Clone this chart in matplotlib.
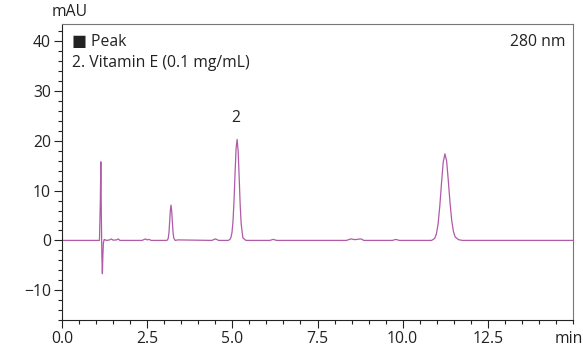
import matplotlib
matplotlib.use("Agg")
import matplotlib.pyplot as plt
from matplotlib.ticker import MultipleLocator, FormatStrFormatter

# chromatogram trace (time in min, signal in mAU)
time = [0.0, 1.00, 1.10, 1.125, 1.14, 1.155, 1.17, 1.185, 1.20, 1.215, 1.24, 1.30,
        1.40, 1.45, 1.50, 1.60, 1.65, 1.70, 2.35, 2.45, 2.50, 2.55, 2.62,
        3.06, 3.10, 3.12, 3.14, 3.16, 3.18, 3.20, 3.22, 3.24, 3.26, 3.28, 3.32, 3.40,
        4.40, 4.50, 4.60,
        4.88, 4.93, 4.96, 4.99, 5.02, 5.05, 5.08, 5.11, 5.14, 5.17, 5.20, 5.23, 5.26, 5.31, 5.40,
        6.10, 6.20, 6.30, 8.35, 8.48, 8.60, 8.70, 8.78, 8.86, 9.70, 9.80, 9.90,
        10.85, 10.94, 10.99, 11.04, 11.09, 11.14, 11.19, 11.24, 11.29, 11.34, 11.39,
        11.44, 11.49, 11.54, 11.64, 11.75, 15.0]
signal = [0.0, 0.0, 0.0, 8.0, 15.8, 5.0, -3.0, -6.7, -3.0, -0.5, 0.2, 0.0,
          0.1, 0.3, 0.05, 0.1, 0.3, 0.0, 0.0, 0.3, 0.1, 0.2, 0.0,
          0.0, 0.1, 0.5, 1.6, 3.7, 6.0, 7.1, 5.9, 3.7, 1.6, 0.5, 0.0, 0.1,
          0.0, 0.3, 0.0,
          0.0, 0.2, 0.6, 1.6, 3.9, 8.0, 13.5, 18.5, 20.3, 18.0, 12.8, 7.2, 3.3, 0.5, 0.0,
          0.0, 0.2, 0.0, 0.0, 0.3, 0.15, 0.25, 0.3, 0.0, 0.0, 0.2, 0.0,
          0.0, 0.4, 1.3, 3.3, 6.9, 11.5, 15.7, 17.4, 16.0, 12.0, 7.6,
          4.0, 1.8, 0.7, 0.15, 0.0, 0.0]

peak_label = "2"
peak_label_pos = (5.1, 24.7)
legend_lines = ["\u25a0 Peak", "2. Vitamin E (0.1 mg/mL)"]
wavelength = "280 nm"

plt.rcParams['font.family'] = ['Open Sans', 'DejaVu Sans']
FS = 11.3

fig = plt.figure(figsize=(5.83, 3.48), dpi=100)
ax = fig.add_axes([62/583, 28/348, 511/583, 296/348])

ax.plot(time, signal, color='#b05aa8', lw=0.9)

ax.set_xlim(0, 15)
ax.set_ylim(-16, 43.5)

ax.set_xticks([0, 2.5, 5, 7.5, 10, 12.5])
ax.xaxis.set_major_formatter(FormatStrFormatter('%.1f'))
ax.xaxis.set_minor_locator(MultipleLocator(0.5))
ax.yaxis.set_major_locator(MultipleLocator(10))
ax.yaxis.set_minor_locator(MultipleLocator(2))

ax.tick_params(axis='both', which='major', direction='out', length=6, width=0.8,
               labelsize=FS, colors='#222222', pad=2)
ax.tick_params(axis='both', which='minor', direction='out', length=3, width=0.8,
               colors='#222222')

for s in ['left', 'bottom']:
    ax.spines[s].set_color('#222222')
    ax.spines[s].set_linewidth(0.8)
for s in ['top', 'right']:
    ax.spines[s].set_color('#777777')
    ax.spines[s].set_linewidth(0.8)

ax.text(peak_label_pos[0], peak_label_pos[1], peak_label, ha='center', va='center',
        fontsize=FS, color='#222222')
ax.text(0.02, 0.965, legend_lines[0], transform=ax.transAxes, ha='left', va='top',
        fontsize=FS, color='#222222')
ax.text(0.02, 0.895, legend_lines[1], transform=ax.transAxes, ha='left', va='top',
        fontsize=FS, color='#222222')
ax.text(0.985, 0.965, wavelength, transform=ax.transAxes, ha='right', va='top',
        fontsize=FS, color='#222222')

fig.text(70/583, 1 - 12/348, "mAU", ha='center', va='center', fontsize=FS, color='#222222')
fig.text(569/583, 1 - 339/348, "min", ha='center', va='center', fontsize=FS, color='#222222')

fig.savefig("out.png", dpi=100)
